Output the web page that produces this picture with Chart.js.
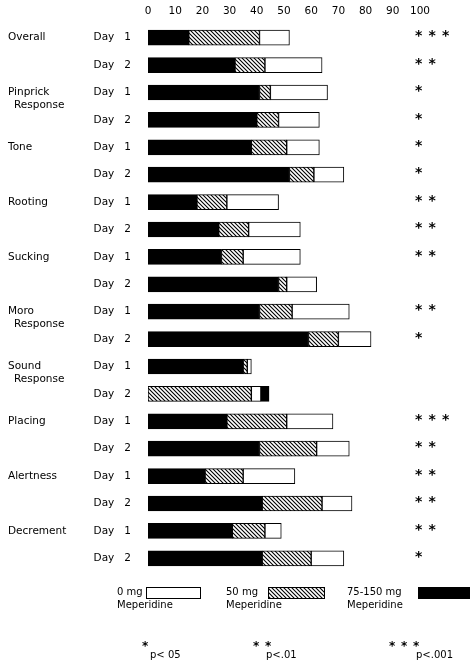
<!DOCTYPE html>
<html>
<head>
<meta charset="utf-8">
<script src="https://cdn.jsdelivr.net/npm/chart.js@4"></script>
<style>
  body { margin: 0; background: #fff; }
  #wrap { width: 470px; height: 665px; position: relative; }
</style>
</head>
<body>
<div id="wrap"><canvas id="chart"></canvas></div>
<script>
// data (percent of infants)
const categories = [['Overall'], ['Pinprick', 'Response'], ['Tone'], ['Rooting'], ['Sucking'],
  ['Moro', 'Response'], ['Sound', 'Response'], ['Placing'], ['Alertness'], ['Decrement']];
const rowLabels = ['Day   1', 'Day   2'];
const xTicks = [0, 10, 20, 30, 40, 50, 60, 70, 80, 90, 100];

const mg0 =   [52, 64, 66, 63, 63, 72, 48, 56, 56, 62, 74, 82, 38, 41.5, 68, 74, 54, 75, 49, 72];
const mg50 =  [41, 43, 45, 48, 51, 61, 29, 37, 35, 51, 53, 70, 36.5, 38, 51, 62, 35, 64, 43, 60];
const mg75 =  [15, 32, 41, 40, 38, 52, 18, 26, 27, 48, 41, 59, 35, 44.5, 29, 41, 21, 42, 31, 42];
const stars = [3, 2, 1, 1, 1, 1, 2, 2, 2, 0, 2, 1, 0, 0, 3, 2, 2, 2, 2, 1];

const FONT = '"DejaVu Sans", sans-serif';

// y labels: two days per category
const labels = [];
categories.forEach(() => rowLabels.forEach(d => labels.push(d)));

// hatched fill for 50 mg
function makeHatch() {
  const c = document.createElement('canvas');
  c.width = 4; c.height = 4;
  const g = c.getContext('2d');
  g.fillStyle = '#fff';
  g.fillRect(0, 0, 4, 4);
  g.strokeStyle = '#000';
  g.lineWidth = 1.1;
  g.beginPath();
  g.moveTo(-1, -1); g.lineTo(5, 5);
  g.moveTo(-1, 3); g.lineTo(1, 5);
  g.moveTo(3, -1); g.lineTo(5, 1);
  g.stroke();
  return g.createPattern(c, 'repeat');
}
const hatch = makeHatch();

// bars overlap, so each dose is drawn as the visible piece between the next shorter value and its own
function segments(own, others) {
  return own.map((v, i) => {
    let low = 0;
    others.forEach(arr => { if (arr[i] < v && arr[i] > low) low = arr[i]; });
    return [low, v];
  });
}

const labelPlugin = {
  id: 'labelPlugin',
  afterDraw(chart) {
    const ctx = chart.ctx;
    const y = chart.scales.y;
    const x = chart.scales.x;
    ctx.save();
    ctx.fillStyle = '#000';
    ctx.font = '10.5px ' + FONT;
    ctx.textBaseline = 'middle';
    ctx.textAlign = 'left';
    // category names
    categories.forEach((lines, k) => {
      const py = y.getPixelForValue(k * 2);
      lines.forEach((t, j) => ctx.fillText(t, j === 0 ? 8 : 14, py + j * 13));
    });
    // significance stars
    ctx.font = 'bold 14px ' + FONT;
    stars.forEach((n, i) => {
      const py = y.getPixelForValue(i) - 1;
      for (let s = 0; s < n; s++) {
        ctx.fillText('*', x.getPixelForValue(100) - 5 + s * 13.5, py);
      }
    });
    // key
    ctx.font = '10px ' + FONT;
    const key = [
      { t: '0 mg', tx: 117, bx: 146, bw: 54, fill: '#fff' },
      { t: '50 mg', tx: 226, bx: 268, bw: 56, fill: hatch },
      { t: '75-150 mg', tx: 347, bx: 418, bw: 52, fill: '#000' }
    ];
    key.forEach(k => {
      ctx.fillText(k.t, k.tx, 592);
      ctx.fillText('Meperidine', k.tx, 605);
      ctx.fillStyle = k.fill;
      ctx.fillRect(k.bx, 587, k.bw, 11);
      ctx.fillStyle = '#000';
      ctx.lineWidth = 1;
      ctx.strokeRect(k.bx + 0.5, 587.5, k.bw, 11);
    });
    // footnotes
    const notes = [
      { n: 1, sx: 142, t: 'p< 05', tx: 150 },
      { n: 2, sx: 253, t: 'p<.01', tx: 266 },
      { n: 3, sx: 389, t: 'p<.001', tx: 416 }
    ];
    notes.forEach(f => {
      ctx.font = 'bold 12px ' + FONT;
      for (let s = 0; s < f.n; s++) ctx.fillText('*', f.sx + s * 12, 647);
      ctx.font = '10px ' + FONT;
      ctx.fillText(f.t, f.tx, 655);
    });
    ctx.restore();
  }
};

const common = {
  borderColor: '#000',
  borderWidth: 1,
  borderSkipped: false,
  barThickness: 15,
  grouped: false
};

new Chart(document.getElementById('chart'), {
  type: 'bar',
  data: {
    labels: labels,
    datasets: [
      Object.assign({ label: '0 mg Meperidine', data: segments(mg0, [mg50, mg75]), backgroundColor: '#fff' }, common),
      Object.assign({ label: '50 mg Meperidine', data: segments(mg50, [mg0, mg75]), backgroundColor: hatch }, common),
      Object.assign({ label: '75-150 mg Meperidine', data: segments(mg75, [mg0, mg50]), backgroundColor: '#000' }, common)
    ]
  },
  options: {
    indexAxis: 'y',
    responsive: true,
    maintainAspectRatio: false,
    animation: false,
    layout: { padding: { left: 0, right: 50, top: 0, bottom: 93 } },
    scales: {
      x: {
        position: 'top',
        min: 0,
        max: 100,
        afterBuildTicks: s => { s.ticks = xTicks.map(v => ({ value: v })); },
        afterFit: s => { s.height = 24; },
        grid: { display: false, drawTicks: false },
        border: { display: false },
        ticks: { color: '#000', padding: 6, font: { family: FONT, size: 10.5 } }
      },
      y: {
        afterFit: s => { s.width = 148; },
        grid: { display: false, drawTicks: false },
        border: { display: false },
        ticks: { color: '#000', padding: 17, font: { family: FONT, size: 10.5 } }
      }
    },
    plugins: {
      legend: { display: false },
      tooltip: { enabled: false }
    }
  },
  plugins: [labelPlugin]
});
</script>
</body>
</html>
